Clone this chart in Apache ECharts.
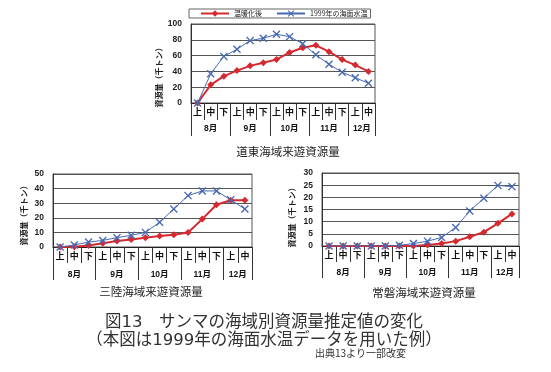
<!DOCTYPE html>
<html><head><meta charset="utf-8">
<script src="https://cdn.jsdelivr.net/npm/echarts@6/dist/echarts.min.js"></script>
<style>html,body{margin:0;padding:0;background:#fff}#c{width:551px;height:372px}</style>
</head><body><div id="c"></div>
<script>
// ---- data ----
const periods = ['上','中','下','上','中','下','上','中','下','上','中','下','上','中'];
const months = ['8月','9月','10月','11月','12月'];
const monthSpans = [3,3,3,3,2];
const seriesNames = ['温暖化後','1999年の海面水温'];

const doutouWarm = [0,23,34,41,47,51,55,64,70,73,65,55,48,40];
const doutou1999 = [0,37,59,68,79,82,87,84,75,61,49,39,32,25];

const sanrikuWarm = [0,0.2,1.1,2.5,4.1,5.2,6.4,7.5,8.4,10,19.1,28.9,32,32];
const sanriku1999 = [0,1.4,3.4,4.5,6.4,8,10,17,26,35.2,38.4,38.4,32.3,26];

const joubanWarm = [0,0,0,0,0,0,0,0.4,1,2,3.8,5.7,9.3,13.2];
const jouban1999 = [0,0,0,0,0,0.3,1,2,3.5,7.6,14.4,19.6,24.9,24.4];

const chartTitles = ['道東海域来遊資源量','三陸海域来遊資源量','常磐海域来遊資源量'];
const yName = '資源量（千トン）';
const caption1 = '図13　サンマの海域別資源量推定値の変化';
const caption2 = '（本図は1999年の海面水温データを用いた例）';
const caption3 = '出典13より一部改変';

// ---- derived month boundaries ----
const monthBounds = [0];
monthSpans.forEach(s => monthBounds.push(monthBounds[monthBounds.length-1] + s));
const monthCenters = monthSpans.map((s,i) => monthBounds[i] + s/2);
const nCat = periods.length;

const FONT = "'Liberation Sans','Noto Sans CJK JP',sans-serif";
const CAPFONT = "'DejaVu Sans','Noto Sans CJK JP',sans-serif";
const RED = '#d42a2f', BLUE = '#4869b2';
const XSYM = 'path://M0,1.2L1.2,0L5,3.8L8.8,0L10,1.2L6.2,5L10,8.8L8.8,10L5,6.2L1.2,10L0,8.8L3.8,5Z';

const grids = [
  {left:191, top:24, right:176, bottom:269},
  {left:53, top:174, right:299, bottom:125},
  {left:322, top:173, right:32, bottom:126}
];
const yCfg = [
  {max:100, interval:20, shift:24, gap:24},
  {max:50, interval:10, shift:6, gap:24},
  {max:30, interval:5, shift:12, gap:25}
];
const tickCfg = [
  {cat:17, month:33, mMargin:21},
  {cat:16, month:33, mMargin:23},
  {cat:16, month:32, mMargin:22}
];

const xAxes = [], yAxes = [];
grids.forEach((g, i) => {
  xAxes.push({
    type:'category', gridIndex:i, data:periods, position:'bottom',
    boundaryGap:true,
    axisLine:{lineStyle:{color:'#222', width:1}},
    axisTick:{show:true, interval:0, length:tickCfg[i].cat, lineStyle:{color:'#333'}},
    axisLabel:{interval:0, margin:5, fontSize:9, fontWeight:'bold', color:'#111', fontFamily:FONT},
    splitLine:{show:false}
  });
  xAxes.push({
    type:'value', gridIndex:i, min:0, max:nCat, position:'bottom',
    axisLine:{show:false},
    axisTick:{show:true, customValues:monthBounds, length:tickCfg[i].month, lineStyle:{color:'#333'}},
    axisLabel:{customValues:monthCenters, margin:tickCfg[i].mMargin, fontSize:8.5, fontWeight:'bold', color:'#111', fontFamily:FONT,
      formatter: v => { const k = monthCenters.findIndex(c => Math.abs(c - v) < 1e-6); return k >= 0 ? months[k] : ''; }},
    splitLine:{show:false}
  });
  yAxes.push({
    type:'value', gridIndex:i, min:0, max:yCfg[i].max, interval:yCfg[i].interval,
    name:yName, nameLocation:'middle', nameRotate:90, nameGap:yCfg[i].gap,
    nameTextStyle:{fontSize:8, fontWeight:'bold', color:'#222', fontFamily:FONT, padding:[0, yCfg[i].shift, 0, 0]},
    axisLine:{show:true, lineStyle:{color:'#333'}},
    axisTick:{show:false},
    axisLabel:{margin:9, fontSize:8.5, fontWeight:'bold', color:'#222', fontFamily:FONT},
    splitLine:{show:true, lineStyle:{color:'#555', width:1}}
  });
});

const dataSets = [[doutouWarm, doutou1999],[sanrikuWarm, sanriku1999],[joubanWarm, jouban1999]];
const series = [];
dataSets.forEach((pair, i) => {
  series.push({
    name:seriesNames[0], type:'line', xAxisIndex:2*i, yAxisIndex:i, data:pair[0],
    symbol:'diamond', symbolSize:7, lineStyle:{color:RED, width:2}, itemStyle:{color:RED},
    animation:false, z:3
  });
  series.push({
    name:seriesNames[1], type:'line', xAxisIndex:2*i, yAxisIndex:i, data:pair[1],
    symbol:XSYM, symbolSize:8, lineStyle:{color:BLUE, width:1}, itemStyle:{color:BLUE},
    animation:false, z:4
  });
});

const titleStyle = (fs, color, ff) => ({fontSize:fs, fontWeight:'normal', color:color, fontFamily:ff || "'Noto Sans CJK JP',sans-serif", lineHeight:fs});
const titles = [
  {text:chartTitles[0], left:288, top:146, textAlign:'center', padding:0, textStyle:titleStyle(11.5,'#222')},
  {text:chartTitles[1], left:151, top:286, textAlign:'center', padding:0, textStyle:titleStyle(11.5,'#222')},
  {text:chartTitles[2], left:424, top:287, textAlign:'center', padding:0, textStyle:titleStyle(11.5,'#222')},
  {text:caption1, left:264, top:314, textAlign:'center', padding:0, textStyle:titleStyle(16.5,'#333',CAPFONT)},
  {text:caption2, left:264, top:332, textAlign:'center', padding:0, textStyle:titleStyle(16.5,'#333',CAPFONT)},
  {text:caption3, left:315, top:348, padding:0, textStyle:titleStyle(10,'#333')}
];

const chart = echarts.init(document.getElementById('c'), null, {renderer:'canvas'});
chart.setOption({
  backgroundColor:'#fff',
  animation:false,
  title:titles,
  legend:{
    data:seriesNames, left:189, top:9, orient:'horizontal',
    padding:[1,3,1,11], itemGap:14, itemWidth:28, itemHeight:8,
    borderColor:'#666', borderWidth:1,
    textStyle:{fontSize:7, color:'#222', fontFamily:"'Noto Sans CJK JP',sans-serif"}
  },
  grid:grids.map(g => Object.assign({show:true, borderColor:'#555', borderWidth:1, backgroundColor:'#fff'}, g)),
  xAxis:xAxes,
  yAxis:yAxes,
  series:series
});
</script>
</body></html>
